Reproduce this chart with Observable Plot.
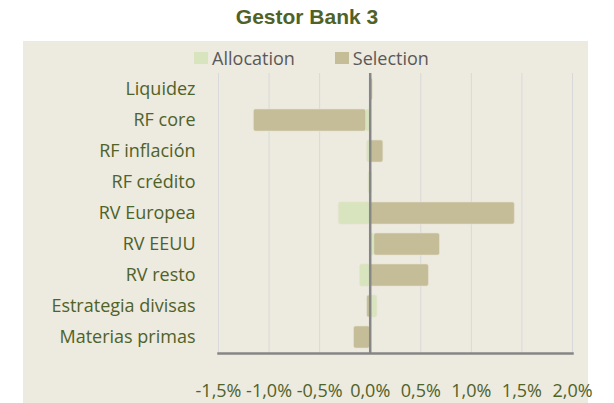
<!DOCTYPE html>
<html>
<head>
<meta charset="utf-8">
<script src="https://cdn.jsdelivr.net/npm/d3@7"></script>
<script src="https://cdn.jsdelivr.net/npm/@observablehq/plot@0.6"></script>
<style>
  html, body { margin: 0; padding: 0; background: #ffffff; }
  #wrap { position: relative; width: 614px; height: 403px; overflow: hidden; }
  #title { position: absolute; left: 0; top: 5px; width: 614px; text-align: center; line-height: 26px;
    font: bold 21px "Liberation Sans", Arial, sans-serif; color: #4F6228; }
  #panel { position: absolute; left: 23px; top: 41px; width: 565px; height: 362px; background: #EDEAE0; }
  #legend { position: absolute; left: 6px; top: 4px; width: 565px; display: flex; justify-content: center;
    font: 18px "Open Sans", sans-serif; color: #595959; line-height: 26px; gap: 40px; }
  .item { display: flex; align-items: center; }
  .sw { width: 14px; height: 12px; margin-right: 4px; }
  #chart { position: absolute; left: 0; top: 0; width: 585px; }
  #chart svg { overflow: visible; max-width: none !important; }
</style>
</head>
<body>
<div id="wrap">
  <div id="title">Gestor Bank 3</div>
  <div id="panel">
    <div id="chart"></div>
    <div id="legend"></div>
  </div>
</div>
<script>
const categories = ["Liquidez", "RF core", "RF inflación", "RF crédito", "RV Europea", "RV EEUU", "RV resto", "Estrategia divisas", "Materias primas"];
const seriesNames = ["Allocation", "Selection"];
const seriesColors = ["#D7E4BD", "#C4BD97"];
const allocation = [0, -0.04, -0.03, -0.015, -0.31, 0.04, -0.10, 0.07, 0];
const selection = [0.025, -1.11, 0.13, 0.015, 1.43, 0.65, 0.58, -0.03, -0.16];
const xTicks = [-1.5, -1.0, -0.5, 0, 0.5, 1.0, 1.5, 2.0];

const data = categories.flatMap((c, i) => [
  {cat: c, series: seriesNames[0], value: allocation[i]},
  {cat: c, series: seriesNames[1], value: selection[i]}
]);

const fmt = d => d.toFixed(1).replace(".", ",") + "%";

const chart = Plot.plot({
  width: 585,
  height: 362,
  marginLeft: 195,
  marginRight: 36,
  marginTop: 32,
  marginBottom: 50,
  style: {background: "transparent", fontFamily: "'Open Sans', sans-serif", fontSize: "18px", color: "#4F6228", overflow: "visible", maxWidth: "none"},
  x: {domain: [-1.5, 2], ticks: xTicks, label: null},
  y: {domain: categories, paddingInner: 0.28, paddingOuter: 0.14, label: null},
  color: {domain: seriesNames, range: seriesColors},
  marks: [
    Plot.gridX(xTicks, {stroke: "#D9D9D9", strokeOpacity: 1, strokeWidth: 1}),
    Plot.barX(data, {x: "value", y: "cat", fill: "series", rx: 2, stroke: "#E6E2D0", strokeWidth: 0.6, order: seriesNames}),
    Plot.ruleX([0], {stroke: "#868686", strokeWidth: 2.5}),
    Plot.frame({anchor: "bottom", stroke: "#868686", strokeWidth: 2.5}),
    Plot.axisX(xTicks, {tickSize: 0, tickPadding: 31, tickFormat: fmt, fill: "#4F6228", fontSize: 18, label: null}),
    Plot.axisY({tickSize: 0, tickPadding: 23, fill: "#4F6228", fontSize: 18, label: null})
  ]
});
document.getElementById("chart").appendChild(chart);

const legend = document.getElementById("legend");
seriesNames.forEach((name, i) => {
  const item = document.createElement("div");
  item.className = "item";
  const sw = document.createElement("div");
  sw.className = "sw";
  sw.style.background = seriesColors[i];
  const t = document.createElement("span");
  t.textContent = name;
  item.appendChild(sw);
  item.appendChild(t);
  legend.appendChild(item);
});
</script>
</body>
</html>
